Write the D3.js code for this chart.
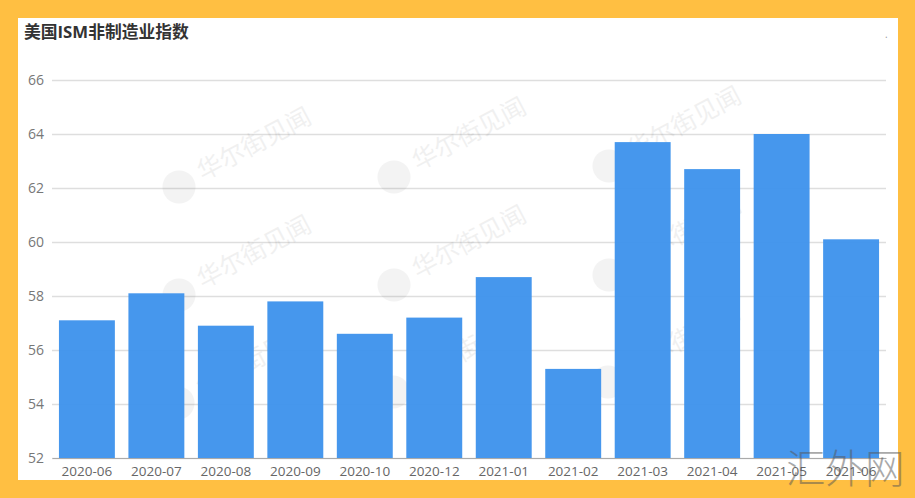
<!DOCTYPE html>
<html>
<head>
<meta charset="utf-8">
<script src="https://cdn.jsdelivr.net/npm/d3@7"></script>
<style>
  html, body { margin: 0; padding: 0; background: #ffbf42; }
  svg { display: block; }
  text { font-family: "Open Sans", "Noto Sans CJK SC", sans-serif; }
</style>
</head>
<body>
<div id="chart"></div>
<script>
const months = ['2020-06', '2020-07', '2020-08', '2020-09', '2020-10', '2020-12',
  '2021-01', '2021-02', '2021-03', '2021-04', '2021-05', '2021-06']
const values = [57.1, 58.1, 56.9, 57.8, 56.6, 57.2, 58.7, 55.3, 63.7, 62.7, 64, 60.1]
const yTicks = [52, 54, 56, 58, 60, 62, 64, 66]
const title = '美国ISM非制造业指数'
const watermark = '华尔街见闻'
const stamp = '汇外网'

const w = 915
const h = 498
const margin = { top: 80, right: 29, bottom: 40, left: 52 }

const svg = d3.select('#chart').append('svg')
  .attr('width', w)
  .attr('height', h)

svg.append('rect')
  .attr('x', 18)
  .attr('y', 18)
  .attr('width', 880)
  .attr('height', 462)
  .attr('fill', '#fff')

const x = d3.scaleBand()
  .domain(months)
  .range([margin.left, w - margin.right])
  .paddingInner(0.195)
  .paddingOuter(0.1)

const y = d3.scaleLinear()
  .domain([52, 66])
  .range([h - margin.bottom, margin.top])

const yAxis = svg.append('g')
  .attr('transform', 'translate(' + margin.left + ',0)')
  .call(d3.axisLeft(y).tickValues(yTicks).tickSize(-(w - margin.left - margin.right)).tickPadding(8))

yAxis.select('.domain').remove()
yAxis.selectAll('line').attr('stroke', '#dedede').attr('stroke-width', 1.5)
yAxis.selectAll('text').attr('fill', '#777').attr('font-size', 14)

// faint diagonal site marks, they only just show through the bars
const marks = [[179, 187], [394, 177], [609, 166], [179, 295], [394, 285], [609, 275], [178, 403], [393, 392], [608, 382]]
const mark = svg.selectAll('.mark')
  .data(marks)
  .enter().append('g')
    .attr('class', 'mark')
    .attr('transform', d => 'translate(' + d[0] + ',' + d[1] + ')')
    .attr('opacity', 0.065)

mark.append('circle')
  .attr('r', 16.5)
  .attr('fill', '#555')

mark.append('text')
  .attr('x', 24)
  .attr('y', 6)
  .attr('transform', 'rotate(-28)')
  .attr('font-size', 25)
  .attr('font-family', '"Noto Sans CJK SC"')
  .attr('fill', '#333')
  .text(watermark)

svg.selectAll('.bar')
  .data(values)
  .enter().append('rect')
    .attr('class', 'bar')
    .attr('x', (d, i) => x(months[i]))
    .attr('y', d => y(d))
    .attr('width', x.bandwidth())
    .attr('height', d => y(52) - y(d))
    .attr('fill', '#4094ec')
    .attr('fill-opacity', 0.97)

const xAxis = svg.append('g')
  .attr('transform', 'translate(0,' + y(52) + ')')
  .call(d3.axisBottom(x).tickSize(0).tickPadding(8))

xAxis.select('.domain').attr('stroke', '#aaa')
xAxis.selectAll('text').attr('fill', '#666').attr('font-size', 13.5)

svg.append('text')
  .attr('x', 24)
  .attr('y', 38)
  .attr('font-size', 16.8)
  .attr('font-weight', 700)
  .attr('font-family', '"Noto Sans CJK SC"')
  .attr('fill', '#333')
  .text(title)

svg.append('text')
  .attr('x', 885)
  .attr('y', 38)
  .attr('font-size', 10)
  .attr('fill', '#999')
  .text('.')

svg.append('text')
  .attr('x', 786)
  .attr('y', 483)
  .attr('font-size', 39.5)
  .attr('font-weight', 300)
  .attr('font-family', '"Noto Sans CJK SC"')
  .attr('fill', '#555')
  .attr('opacity', 0.5)
  .text(stamp)
</script>
</body>
</html>
